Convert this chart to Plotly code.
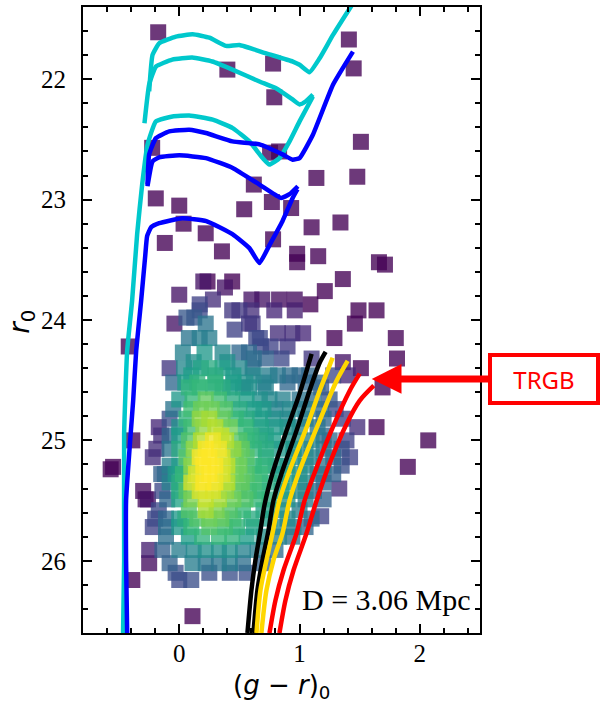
import plotly.graph_objects as go

# ---- stars: colour (g-r)_0, magnitude r_0, density level (0..1, viridis) ----
star_x = [
    0.20, 0.235, 0.44,
    0.38,
    0.0,
    0.28, 0.6, 0.69, 0.83, 0.96,
    0.17, 1.09,
    0.17, 0.44, 0.5, 0.6, 0.79, 0.96, 1.49, 1.64,
    0.06, 0.125,
    -0.04, 0.22, 0.58, 0.61, 1.46,
    0.46,
    0.82, 0.94, 1.03,
    0.08, 0.17, 0.25, 0.64, 0.67, 1.29, 1.80,
    0.68, 0.76, 0.90, -0.42,
    0.03, 0.21, 0.36, 0.50, 0.58,
    0.72, 0.85, 1.10, 1.81,
    0.12, 0.40, 1.36,
    -0.08, 0.04, 0.18, 0.25, 0.36, 0.50, 0.61, 1.51,
    0.62, 0.92, 1.0, 1.08, 1.28, 1.40,
    -0.05, 0.30, 0.90,
    0.08, 0.17, 0.28, 0.36, 0.42, 0.53, 0.58, 0.72, 1.18, 1.69,
    0.0, 0.11, 0.22, 0.33, 0.44, 0.56, 0.67, 0.75, 0.86, 1.0, 1.12, 1.25,
    -0.05, 0.27, 0.5, 0.8, 1.3,
    -0.08, 0.06, 0.17, 0.25, 0.36, 0.47, 0.56, 0.67, 0.78, 0.90, 1.05, 1.20, 1.36,
    -0.17, 0.0, 1.0, 1.15, 1.48, 1.64,
    -0.15, 0.0,
    -0.39, 0.08, 0.18, 0.28, 0.39, 0.50, 0.56, 0.67, 0.78, 0.95, 1.10, 1.25, 1.39, 2.07,
    -0.19, 0.12, 0.33, 0.62, 0.85,
    -0.22, 0.06, 0.17, 0.25, 0.36, 0.47, 0.56, 0.72, 0.95, 1.10, 1.28, 1.42, 1.90,
    -0.08, 0.20, 0.30, 0.62, 0.80,
    -0.57, -0.55,
    -0.15, -0.12, -0.03, 0.03, 0.14, 0.25, 0.36, 0.47, 0.56, 0.67, 0.85, 1.0, 1.15, 1.28,
    0.10, 0.20, 0.30, 0.52, 0.75,
    -0.30, -0.14, 0.0, 0.06, 0.17, 0.28, 0.39, 0.50, 0.58, 0.67, 0.85, 1.0, 1.12, 1.33,
    -0.28, -0.26, 0.0, 0.22, 0.45, 0.9, 1.05,
    -0.17, 0.08, 0.22, 0.31, 0.42, 0.53, 0.70, 0.85, 1.0, 1.18,
    -0.11, 0.15, 0.60,
    -0.22, -0.11, 0.0, 0.10, 0.25, 0.38, 0.48, 0.62, 0.80, 0.95, 1.05,
    -0.11, 0.08, 0.19, 0.33, 0.44, 0.56, 0.70, 0.83, 0.94,
    -0.25, -0.14, 0.0, 0.12, 0.22, 0.33, 0.42, 0.53, 0.65, 0.80,
    -0.25, -0.08, 0.11, 0.22, 0.33, 0.42, 0.53, 0.70,
    -0.03, 0.25, 0.42, 0.56,
    -0.39, 0.0, 0.10,
    0.11,
    # fill of the dense body
    0.1, 0.2, 0.3, 0.42, 0.55, 0.68, 0.8, 0.9,
    0.35, 0.6, 0.72, 1.2, -0.08,
    0.1, 0.18, 0.38, 0.62, 0.7, 0.92, 1.05, 1.18,
    0.05, 0.15, 0.45, 0.55, 0.7, 1.05, 1.15,
    -0.08, 0.0, 0.22, 0.45, 0.52, 0.72, 0.95, 1.05, 1.2, 1.35,
    0.0, 0.1, 0.4, 0.5, 0.7, 0.9, 1.05, 1.2, 1.35,
    -0.08, 0.0, 0.4, 0.62, 0.9, 1.05, 1.2,
    -0.1, 0.1, 0.33, 0.55, 0.65, 0.75, 1.2,
    -0.2, 0.0, 0.05, 0.25, 0.35, 0.45, 0.75, 0.9, 1.1,
    0.1, 0.3, 0.45, 0.75, 0.82,
    0.62,
    # sparse upper stars
    -0.175, 0.40, 0.78, 0.79, 1.41, 1.45, -0.225, 0.755, 0.83, 1.51, 0.62, 1.14,
    1.48, -0.195, 0.0, 0.54, 0.77, 0.93, 0.036, -0.12, 0.22, 0.355, 0.78, 0.98,
    0.98, 1.10, 1.34, 1.155, 1.66, 1.71, 1.36, 1.21,
]
star_y = [
    23.68, 23.68, 23.68,
    23.73,
    23.79,
    23.83, 23.83, 23.83, 23.83, 23.83,
    23.87, 23.87,
    23.92, 23.92, 23.92, 23.92, 23.92, 23.92, 23.92, 23.92,
    23.98, 23.98,
    24.03, 24.03, 24.03, 24.03, 24.03,
    24.08,
    24.11, 24.11, 24.11,
    24.15, 24.15, 24.15, 24.15, 24.15, 24.15, 24.15,
    24.22, 24.22, 24.22, 24.22,
    24.27, 24.27, 24.27, 24.27, 24.27,
    24.32, 24.32, 24.32, 24.32,
    24.35, 24.35, 24.35,
    24.40, 24.40, 24.40, 24.40, 24.40, 24.40, 24.40, 24.40,
    24.46, 24.46, 24.46, 24.46, 24.46, 24.46,
    24.52, 24.52, 24.52,
    24.56, 24.56, 24.56, 24.56, 24.56, 24.56, 24.56, 24.56, 24.56, 24.56,
    24.66, 24.66, 24.66, 24.66, 24.66, 24.66, 24.66, 24.66, 24.66, 24.66, 24.66, 24.66,
    24.74, 24.74, 24.74, 24.74, 24.74,
    24.82, 24.82, 24.82, 24.82, 24.82, 24.82, 24.82, 24.82, 24.82, 24.82, 24.82, 24.82, 24.82,
    24.89, 24.89, 24.89, 24.89, 24.89, 24.89,
    24.96, 24.96,
    25.00, 25.00, 25.00, 25.00, 25.00, 25.00, 25.00, 25.00, 25.00, 25.00, 25.00, 25.00, 25.00, 25.00,
    25.07, 25.07, 25.07, 25.07, 25.07,
    25.14, 25.14, 25.14, 25.14, 25.14, 25.14, 25.14, 25.14, 25.14, 25.14, 25.14, 25.14, 25.22,
    25.21, 25.21, 25.21, 25.21, 25.21,
    25.24, 25.22,
    25.28, 25.28, 25.28, 25.28, 25.28, 25.28, 25.28, 25.28, 25.28, 25.28, 25.28, 25.28, 25.28, 25.28,
    25.35, 25.35, 25.35, 25.35, 25.35,
    25.42, 25.42, 25.42, 25.42, 25.42, 25.42, 25.42, 25.42, 25.42, 25.42, 25.42, 25.42, 25.42, 25.40,
    25.49, 25.49, 25.49, 25.49, 25.49, 25.49, 25.49,
    25.58, 25.58, 25.58, 25.58, 25.58, 25.58, 25.58, 25.58, 25.58, 25.63,
    25.65, 25.65, 25.65,
    25.72, 25.72, 25.72, 25.72, 25.72, 25.72, 25.72, 25.72, 25.72, 25.72, 25.72,
    25.80, 25.80, 25.80, 25.80, 25.80, 25.80, 25.80, 25.80, 25.80,
    25.91, 25.91, 25.91, 25.91, 25.91, 25.91, 25.91, 25.91, 25.91, 25.91,
    26.02, 26.02, 26.02, 26.02, 26.02, 26.02, 26.02, 26.02,
    26.10, 26.10, 26.10, 26.10,
    26.16, 26.16, 26.16,
    26.46,
    # fill
    24.89, 24.89, 24.89, 24.89, 24.89, 24.89, 24.89, 24.89,
    24.96, 24.96, 24.96, 24.96, 24.96,
    24.74, 24.74, 24.74, 24.74, 24.74, 24.74, 24.74, 24.74,
    24.52, 24.52, 24.52, 24.52, 24.52, 24.52, 24.52,
    25.07, 25.07, 25.07, 25.07, 25.07, 25.07, 25.07, 25.07, 25.07, 25.07,
    25.21, 25.21, 25.21, 25.21, 25.21, 25.21, 25.21, 25.21, 25.21,
    25.35, 25.35, 25.35, 25.35, 25.35, 25.35, 25.35,
    25.49, 25.49, 25.49, 25.49, 25.49, 25.49, 25.49,
    25.65, 25.65, 25.65, 25.65, 25.65, 25.65, 25.65, 25.65, 25.65,
    24.46, 24.46, 24.46, 24.46, 24.46,
    24.32,
    # sparse
    21.61, 21.92, 21.87, 22.15, 21.67, 21.91, 22.57, 22.61, 22.60, 22.52, 22.875, 22.82,
    22.81, 22.99, 23.05, 23.08, 23.02, 23.07, 23.20, 23.36, 23.28, 23.43, 23.33, 23.45,
    23.52, 23.23, 23.19, 23.47, 23.52, 23.54, 23.66, 23.76,
]
star_c = [
    0.05, 0.0, 0.0,
    0.05,
    0.05,
    0.12, 0.05, 0.05, 0.03, 0.03,
    0.18, 0.0,
    0.2, 0.15, 0.15, 0.12, 0.1, 0.08, 0.0, 0.0,
    0.25, 0.25,
    0.05, 0.35, 0.15, 0.15, 0.0,
    0.18,
    0.12, 0.12, 0.1,
    0.35, 0.38, 0.38, 0.2, 0.2, 0.0, 0.0,
    0.2, 0.18, 0.15, 0.0,
    0.4, 0.48, 0.42, 0.3, 0.3,
    0.28, 0.2, 0.15, 0.0,
    0.45, 0.45, 0.05,
    0.15, 0.42, 0.52, 0.55, 0.5, 0.42, 0.32, 0.0,
    0.42, 0.32, 0.3, 0.3, 0.2, 0.1,
    0.3, 0.58, 0.3,
    0.58, 0.6, 0.58, 0.55, 0.5, 0.45, 0.45, 0.4, 0.25, 0.0,
    0.48, 0.6, 0.68, 0.62, 0.55, 0.5, 0.45, 0.42, 0.4, 0.35, 0.32, 0.25,
    0.35, 0.7, 0.55, 0.4, 0.2,
    0.22, 0.58, 0.75, 0.78, 0.68, 0.6, 0.55, 0.5, 0.45, 0.42, 0.38, 0.3, 0.18,
    0.1, 0.45, 0.4, 0.35, 0.12, 0.0,
    0.12, 0.5,
    0.0, 0.65, 0.8, 0.88, 0.8, 0.65, 0.6, 0.55, 0.5, 0.45, 0.4, 0.32, 0.18, 0.0,
    0.12, 0.75, 0.88, 0.58, 0.48,
    0.12, 0.65, 0.9, 0.97, 0.85, 0.7, 0.65, 0.55, 0.45, 0.4, 0.3, 0.18, 0.0,
    0.4, 0.98, 0.95, 0.6, 0.5,
    0.0, 0.0,
    0.28, 0.3, 0.48, 0.6, 0.85, 1.0, 0.85, 0.7, 0.65, 0.6, 0.5, 0.45, 0.35, 0.28,
    0.85, 0.95, 0.88, 0.68, 0.55,
    0.03, 0.2, 0.55, 0.65, 0.85, 0.85, 0.75, 0.65, 0.62, 0.58, 0.5, 0.42, 0.32, 0.12,
    0.03, 0.05, 0.52, 0.82, 0.7, 0.45, 0.38,
    0.2, 0.65, 0.78, 0.72, 0.65, 0.6, 0.52, 0.45, 0.38, 0.18,
    0.3, 0.65, 0.55,
    0.18, 0.32, 0.48, 0.6, 0.65, 0.62, 0.58, 0.52, 0.42, 0.38, 0.3,
    0.33, 0.5, 0.58, 0.6, 0.58, 0.5, 0.45, 0.4, 0.35,
    0.08, 0.28, 0.38, 0.42, 0.45, 0.45, 0.45, 0.4, 0.38, 0.32,
    0.03, 0.28, 0.38, 0.35, 0.35, 0.38, 0.33, 0.28,
    0.22, 0.22, 0.22, 0.22,
    0.0, 0.2, 0.22,
    0.0,
    # fill
    0.62, 0.75, 0.8, 0.7, 0.6, 0.52, 0.48, 0.45,
    0.82, 0.58, 0.52, 0.3, 0.3,
    0.62, 0.7, 0.65, 0.5, 0.48, 0.42, 0.38, 0.32,
    0.5, 0.58, 0.5, 0.45, 0.4, 0.3, 0.3,
    0.35, 0.55, 0.9, 0.75, 0.68, 0.55, 0.45, 0.42, 0.35, 0.22,
    0.5, 0.75, 0.82, 0.7, 0.58, 0.48, 0.42, 0.35, 0.22,
    0.4, 0.55, 0.8, 0.62, 0.48, 0.42, 0.3,
    0.3, 0.72, 0.78, 0.65, 0.6, 0.55, 0.28,
    0.2, 0.48, 0.55, 0.7, 0.68, 0.62, 0.5, 0.42, 0.3,
    0.5, 0.55, 0.48, 0.38, 0.35,
    0.32,
    # sparse
    0.0, 0.0, 0.0, 0.0, 0.0, 0.0, 0.0, 0.0, 0.0, 0.0, 0.0, 0.0,
    0.0, 0.0, 0.0, 0.0, 0.0, 0.0, 0.0, 0.0, 0.0, 0.0, 0.0, 0.0,
    0.0, 0.0, 0.0, 0.0, 0.0, 0.0, 0.0, 0.0,
]

# ---- isochrones (cyan / blue) ----
cyan1_x = [-0.25, -0.222, -0.167, -0.028, 0.111, 0.25, 0.389, 0.5, 0.722, 0.944, 1.0, 1.083, 1.167, 1.278, 1.417, 1.47]
cyan1_y = [22.10, 21.798, 21.702, 21.646, 21.627, 21.655, 21.723, 21.715, 21.785, 21.853, 21.88, 21.942, 21.826, 21.632, 21.412, 21.33]
cyan2_x = [-0.289, -0.25, -0.194, -0.058, 0.108, 0.275, 0.442, 0.667, 0.808, 0.942, 1.0, 1.05, 1.111]
cyan2_y = [22.365, 22.044, 21.895, 21.837, 21.820, 21.853, 21.920, 22.019, 22.077, 22.168, 22.209, 22.185, 22.127]
cyan3_x = [-0.467, -0.458, -0.458, -0.433, -0.392, -0.350, -0.308, -0.264, -0.194, -0.056, 0.083, 0.278, 0.444, 0.583, 0.694, 0.75, 0.833, 0.917, 1.0, 1.111]
cyan3_y = [26.60, 26.00, 24.944, 24.256, 23.842, 23.287, 22.872, 22.544, 22.35, 22.309, 22.301, 22.336, 22.406, 22.516, 22.655, 22.709, 22.655, 22.516, 22.35, 22.143]
blue1_x = [-0.433, -0.442, -0.442, -0.408, -0.383, -0.358, -0.317, -0.283, -0.267, -0.233, -0.167, 0.025, 0.225, 0.442, 0.583, 0.667, 0.75, 0.858, 0.942, 0.983]
blue1_y = [26.60, 26.00, 25.50, 25.00, 24.67, 24.256, 23.842, 23.469, 23.303, 23.229, 23.196, 23.154, 23.179, 23.287, 23.403, 23.527, 23.378, 23.179, 22.988, 22.914]
blue2_x = [-0.264, -0.222, -0.167, 0.0, 0.222, 0.444, 0.667, 0.847, 0.917, 0.986]
blue2_y = [22.889, 22.682, 22.649, 22.632, 22.655, 22.737, 22.875, 22.986, 22.955, 22.889]
blue3_x = [-0.264, -0.25, -0.194, -0.083, 0.083, 0.222, 0.442, 0.667, 0.858, 0.942, 1.0, 1.111, 1.278, 1.444]
blue3_y = [22.875, 22.624, 22.489, 22.433, 22.419, 22.447, 22.516, 22.541, 22.624, 22.668, 22.655, 22.461, 22.046, 21.771]

# ---- RGB tracks (black / gold / red) ----
black1_y = [26.60, 26.244, 25.996, 25.747, 25.540, 25.275, 24.919, 24.612, 24.281]
black1_x = [0.567, 0.600, 0.633, 0.675, 0.708, 0.775, 0.892, 1.0, 1.1]
black2_y = [26.60, 26.244, 25.996, 25.747, 25.499, 25.275, 24.919, 24.587, 24.355, 24.264]
black2_x = [0.617, 0.65, 0.692, 0.742, 0.783, 0.85, 0.975, 1.083, 1.167, 1.217]
gold1_y = [26.60, 26.244, 25.996, 25.772, 25.499, 25.250, 24.894, 24.587, 24.421, 24.314]
gold1_x = [0.642, 0.675, 0.725, 0.775, 0.833, 0.917, 1.058, 1.167, 1.233, 1.275]
gold2_y = [26.60, 26.244, 25.996, 25.772, 25.499, 25.250, 24.836, 24.504, 24.339]
gold2_x = [0.683, 0.725, 0.783, 0.858, 0.917, 1.0, 1.167, 1.308, 1.4]
red1_y = [26.60, 26.327, 26.079, 25.772, 25.499, 25.225, 24.894, 24.587, 24.446]
red1_x = [0.75, 0.8, 0.867, 0.975, 1.042, 1.142, 1.275, 1.417, 1.5]
red2_y = [26.60, 26.327, 26.079, 25.772, 25.499, 25.192, 24.861, 24.670, 24.546]
red2_x = [0.833, 0.883, 0.95, 1.058, 1.142, 1.25, 1.392, 1.5, 1.617]

CYAN = "#00C8CC"
BLUE = "#0000FF"
GOLD = "#FFD700"
RED = "#FF0000"
SERIF = "Liberation Serif"

fig = go.Figure()

order = sorted(range(len(star_x)), key=lambda i: star_c[i])
fig.add_trace(go.Scatter(
    x=[star_x[i] for i in order], y=[star_y[i] for i in order], mode="markers",
    marker=dict(symbol="square", size=16, color=[star_c[i] for i in order],
                colorscale="Viridis", cmin=0, cmax=0.9, opacity=0.78,
                line=dict(width=0)),
    showlegend=False, hoverinfo="skip"))

for xs, ys, col in [
    (cyan1_x, cyan1_y, CYAN), (cyan2_x, cyan2_y, CYAN), (cyan3_x, cyan3_y, CYAN),
    (blue1_x, blue1_y, BLUE), (blue2_x, blue2_y, BLUE), (blue3_x, blue3_y, BLUE),
]:
    fig.add_trace(go.Scatter(x=xs, y=ys, mode="lines",
                             line=dict(color=col, width=4.5, shape="spline", smoothing=0.4),
                             showlegend=False, hoverinfo="skip"))

for xs, ys, col in [
    (black1_x, black1_y, "black"), (black2_x, black2_y, "black"),
    (gold1_x, gold1_y, GOLD), (gold2_x, gold2_y, GOLD),
    (red1_x, red1_y, RED), (red2_x, red2_y, RED),
]:
    fig.add_trace(go.Scatter(x=xs, y=ys, mode="lines",
                             line=dict(color=col, width=4.5, shape="spline", smoothing=0.8),
                             showlegend=False, hoverinfo="skip"))

tick_font = dict(family=SERIF, size=25, color="black")
minor_ticks = dict(ticks="inside", ticklen=5, tickwidth=1.5, tickcolor="black",
                   dtick=0.2, tick0=0, showgrid=False)

fig.update_xaxes(range=[-0.8, 2.5], tick0=0, dtick=1,
                 showline=True, linewidth=2, linecolor="black", mirror="allticks",
                 ticks="inside", ticklen=9, tickwidth=1.8, tickcolor="black",
                 showgrid=False, zeroline=False, tickfont=tick_font,
                 ticklabelstandoff=-3, minor=minor_ticks)
fig.update_yaxes(range=[26.6, 21.4], tick0=0, dtick=1,
                 showline=True, linewidth=2, linecolor="black", mirror="allticks",
                 ticks="inside", ticklen=9, tickwidth=1.8, tickcolor="black",
                 showgrid=False, zeroline=False, tickfont=tick_font,
                 ticklabelstandoff=10, minor=minor_ticks)

fig.add_annotation(x=0.5, y=-0.085, xref="paper", yref="paper",
                   text="(<i>g</i> − <i>r</i>)<sub>0</sub>", showarrow=False,
                   font=dict(family="DejaVu Sans", size=26, color="black"),
                   xanchor="center", yanchor="middle")
fig.add_annotation(x=-0.155, y=0.498, xref="paper", yref="paper",
                   text="<i>r</i><sub>0</sub>", showarrow=False, textangle=-90,
                   font=dict(family="DejaVu Sans", size=28, color="black"),
                   xanchor="center", yanchor="middle")
fig.add_annotation(x=1.72, y=26.32, xref="x", yref="y", text="D = 3.06 Mpc",
                   showarrow=False, font=dict(family=SERIF, size=30, color="black"),
                   xanchor="center", yanchor="middle")
fig.add_annotation(x=1.6, y=24.49, xref="x", yref="y", text="TRGB",
                   showarrow=True, ax=172, ay=0, arrowcolor=RED, arrowwidth=7,
                   arrowhead=2, arrowsize=0.85, standoff=0,
                   bordercolor=RED, borderwidth=4, borderpad=2, bgcolor="white",
                   width=100, height=40,
                   font=dict(family="Noto Sans", size=24, color=RED))

fig.update_layout(
    width=600, height=702,
    margin=dict(l=83, r=120, t=5, b=69),
    plot_bgcolor="white", paper_bgcolor="white",
    font=dict(family=SERIF, size=25, color="black"),
    showlegend=False,
)

fig.write_html("out.html", config={"displayModeBar": False},
               post_script="document.body.style.margin='0';")
